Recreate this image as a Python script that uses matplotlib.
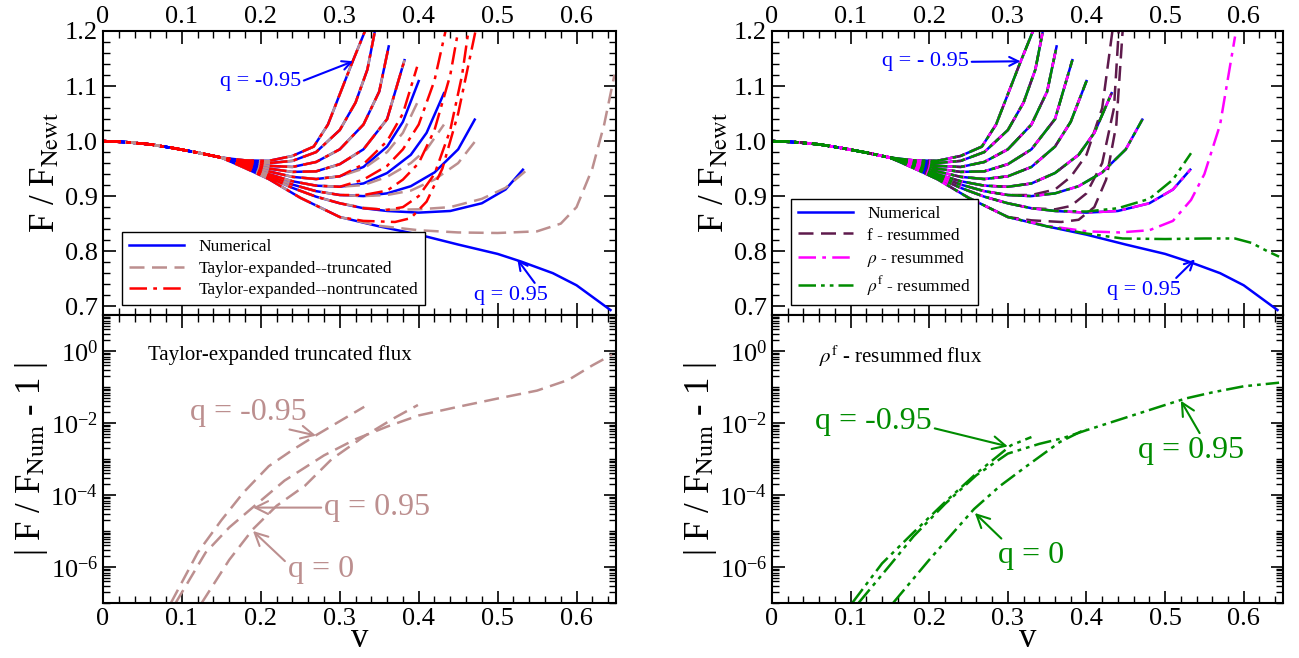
import numpy as np
import matplotlib
matplotlib.use('Agg')
import matplotlib.pyplot as plt
from matplotlib.ticker import MultipleLocator, FixedLocator, LogLocator, NullFormatter, FuncFormatter
from matplotlib.lines import Line2D

plt.rcParams['font.family'] = ['Liberation Serif', 'DejaVu Serif']
plt.rcParams['mathtext.fontset'] = 'stix'

# spins, from q=-0.95 to q=0.95
q_vals = [-0.95, -0.75, -0.5, -0.25, 0.0, 0.25, 0.5, 0.75, 0.95]

# shared low-v part of every F/F_Newt curve
v_pre = [0.0, 0.03, 0.06, 0.09, 0.12, 0.15]
f_pre = [1.0, 0.998, 0.994, 0.987, 0.979, 0.970]

# numerical flux (after v_pre)
num_v = [
    [0.18, 0.21, 0.24, 0.267, 0.285, 0.30, 0.315, 0.332],
    [0.18, 0.21, 0.24, 0.27, 0.30, 0.32, 0.335, 0.344],
    [0.18, 0.21, 0.24, 0.27, 0.30, 0.33, 0.35, 0.362],
    [0.18, 0.21, 0.24, 0.27, 0.30, 0.33, 0.36, 0.382],
    [0.18, 0.21, 0.24, 0.27, 0.30, 0.33, 0.36, 0.38, 0.40],
    [0.18, 0.21, 0.24, 0.27, 0.30, 0.33, 0.36, 0.39, 0.41, 0.432],
    [0.18, 0.21, 0.24, 0.27, 0.30, 0.33, 0.36, 0.39, 0.42, 0.45, 0.471],
    [0.18, 0.21, 0.24, 0.27, 0.30, 0.33, 0.36, 0.40, 0.44, 0.48, 0.51, 0.532],
    [0.18, 0.21, 0.25, 0.30, 0.35, 0.40, 0.45, 0.50, 0.53, 0.57, 0.60, 0.643],
]
num_f = [
    [0.965, 0.964, 0.973, 0.99, 1.03, 1.085, 1.14, 1.2],
    [0.963, 0.960, 0.964, 0.98, 1.02, 1.07, 1.13, 1.196],
    [0.962, 0.955, 0.953, 0.962, 0.985, 1.03, 1.09, 1.172],
    [0.960, 0.950, 0.944, 0.945, 0.958, 0.985, 1.04, 1.147],
    [0.958, 0.945, 0.935, 0.931, 0.936, 0.953, 0.99, 1.035, 1.109],
    [0.956, 0.940, 0.927, 0.919, 0.917, 0.923, 0.942, 0.975, 1.015, 1.087],
    [0.955, 0.937, 0.921, 0.909, 0.902, 0.900, 0.905, 0.918, 0.943, 0.985, 1.039],
    [0.953, 0.934, 0.915, 0.899, 0.887, 0.878, 0.873, 0.870, 0.873, 0.887, 0.912, 0.948],
    [0.951, 0.931, 0.897, 0.862, 0.845, 0.830, 0.812, 0.795, 0.781, 0.760, 0.738, 0.693],
]

# tails that leave the numerical curve: (curve index, v, F)
trunc_tails = [
    (4, [0.33, 0.36, 0.38, 0.40], [0.950, 0.980, 1.015, 1.075]),
    (5, [0.33, 0.36, 0.39, 0.41, 0.432], [0.920, 0.935, 0.960, 0.985, 1.03]),
    (6, [0.33, 0.36, 0.39, 0.42, 0.45, 0.475], [0.900, 0.902, 0.910, 0.930, 0.960, 1.006]),
    (7, [0.33, 0.36, 0.40, 0.44, 0.48, 0.51, 0.535], [0.879, 0.875, 0.876, 0.880, 0.895, 0.915, 0.945]),
    (8, [0.30, 0.35, 0.40, 0.45, 0.50, 0.55, 0.58, 0.60, 0.62, 0.635, 0.648],
        [0.862, 0.846, 0.838, 0.834, 0.833, 0.836, 0.850, 0.880, 0.950, 1.03, 1.12]),
]
nontrunc_tails = [
    (4, [0.33, 0.36, 0.38, 0.398], [0.958, 1.0, 1.05, 1.135]),
    (5, [0.33, 0.36, 0.38, 0.40, 0.42, 0.434], [0.930, 0.955, 0.985, 1.03, 1.11, 1.2]),
    (6, [0.33, 0.36, 0.38, 0.40, 0.42, 0.44, 0.45], [0.902, 0.910, 0.930, 0.960, 1.02, 1.12, 1.2]),
    (7, [0.33, 0.36, 0.38, 0.40, 0.42, 0.44, 0.455, 0.463], [0.878, 0.875, 0.880, 0.900, 0.940, 1.02, 1.12, 1.2]),
    (8, [0.33, 0.37, 0.39, 0.41, 0.43, 0.45, 0.472], [0.855, 0.853, 0.860, 0.890, 0.950, 1.05, 1.2]),
]
fres_tails = [
    (6, [0.33, 0.36, 0.38, 0.40, 0.42, 0.433], [0.902, 0.912, 0.935, 0.975, 1.06, 1.2]),
    (7, [0.33, 0.36, 0.38, 0.40, 0.42, 0.435, 0.441], [0.878, 0.876, 0.882, 0.905, 0.960, 1.06, 1.2]),
    (8, [0.33, 0.368, 0.39, 0.41, 0.425, 0.438, 0.446], [0.856, 0.853, 0.857, 0.880, 0.930, 1.03, 1.2]),
]
rho_tails = [
    (8, [0.35, 0.40, 0.442, 0.48, 0.51, 0.533, 0.55, 0.57, 0.589],
        [0.846, 0.836, 0.834, 0.838, 0.855, 0.893, 0.940, 1.03, 1.19]),
]
rhof_tails = [
    (7, [0.40, 0.44, 0.48, 0.51, 0.533], [0.872, 0.878, 0.895, 0.930, 0.978]),
    (8, [0.40, 0.446, 0.50, 0.55, 0.589, 0.61, 0.63, 0.645], [0.832, 0.823, 0.822, 0.823, 0.823, 0.815, 0.800, 0.790]),
]

# log10 |F/F_num - 1|, Taylor truncated
err_t_v = {
    -0.95: [0.086, 0.12, 0.15, 0.178, 0.21, 0.24, 0.27, 0.30, 0.331],
    0.0: [0.125, 0.16, 0.19, 0.22, 0.256, 0.29, 0.333, 0.37, 0.399],
    0.95: [0.092, 0.13, 0.16, 0.19, 0.23, 0.28, 0.32, 0.36, 0.40, 0.45, 0.50, 0.55, 0.59, 0.62, 0.645],
}
err_t_lg = {
    -0.95: [-7.0, -5.6, -4.7, -3.93, -3.2, -2.75, -2.34, -1.95, -1.55],
    0.0: [-7.0, -5.8, -4.95, -4.3, -3.74, -3.0, -2.34, -1.85, -1.5],
    0.95: [-7.0, -5.6, -4.9, -4.34, -3.6, -2.9, -2.45, -2.1, -1.79, -1.55, -1.32, -1.1, -0.8, -0.4, -0.1],
}
# log10 |F/F_num - 1|, rho^f resummed
err_r_v = {
    -0.95: [0.102, 0.14, 0.18, 0.22, 0.26, 0.304, 0.33],
    0.0: [0.154, 0.2, 0.257, 0.29, 0.325, 0.366, 0.40],
    0.95: [0.11, 0.15, 0.18, 0.22, 0.26, 0.30, 0.34, 0.37, 0.40, 0.45, 0.50, 0.526, 0.56, 0.60, 0.645],
}
err_r_lg = {
    -0.95: [-7.0, -5.9, -5.04, -4.2, -3.4, -2.62, -2.39],
    0.0: [-7.0, -5.8, -4.39, -3.75, -3.18, -2.53, -2.16],
    0.95: [-7.0, -5.95, -5.15, -4.25, -3.45, -2.85, -2.58, -2.42, -2.2, -1.85, -1.5, -1.32, -1.15, -0.98, -0.88],
}

BLUE = '#0000ff'
BROWN = '#bc8f8f'
RED = '#ff0000'
PURPLE = '#5e1a4c'
MAGENTA = '#ff00ff'
GREEN = '#008c00'
LW = 1.8
DASH = (0, (6, 3))
DASHDOT = (0, (7, 2.5, 1.5, 2.5))
DASHDOTDOT = (0, (7, 2, 1.5, 2, 1.5, 2))

W, H = 1299, 658
fig = plt.figure(figsize=(W / 100, H / 100), dpi=100)


def box(x0, x1, ytop, ybot):
    return [x0 / W, 1 - ybot / H, (x1 - x0) / W, (ybot - ytop) / H]


ax_tl = fig.add_axes(box(103, 616, 31, 315))
ax_bl = fig.add_axes(box(103, 616, 315, 603))
ax_tr = fig.add_axes(box(772, 1283, 31, 315))
ax_br = fig.add_axes(box(772, 1283, 315, 603))


def full(i):
    return v_pre + num_v[i], f_pre + num_f[i]


def with_tail(i, tv, tf):
    v, f = full(i)
    keep = [k for k in range(len(v)) if v[k] < tv[0]]
    return [v[k] for k in keep] + tv, [f[k] for k in keep] + tf


def draw_top(ax, styles):
    for i in range(len(q_vals)):
        v, f = full(i)
        ax.plot(v, f, color=BLUE, lw=LW, ls='-')
    for color, ls, tails in styles:
        tailed = {t[0]: t for t in tails}
        for i in range(len(q_vals)):
            if i in tailed:
                v, f = with_tail(i, tailed[i][1], tailed[i][2])
            else:
                v, f = full(i)
            ax.plot(v, f, color=color, lw=LW, ls=ls)


draw_top(ax_tl, [(BROWN, DASH, trunc_tails), (RED, DASHDOT, nontrunc_tails)])
draw_top(ax_tr, [(PURPLE, DASH, fres_tails), (MAGENTA, DASHDOT, rho_tails),
                 (GREEN, DASHDOTDOT, rhof_tails)])

for q in [-0.95, 0.0, 0.95]:
    ax_bl.plot(err_t_v[q], 10.0 ** np.array(err_t_lg[q]), color=BROWN, lw=LW, ls=DASH)
    ax_br.plot(err_r_v[q], 10.0 ** np.array(err_r_lg[q]), color=GREEN, lw=LW, ls=DASHDOTDOT)

# legends
h_l = [Line2D([], [], color=BLUE, lw=LW), Line2D([], [], color=BROWN, lw=LW, ls=DASH),
       Line2D([], [], color=RED, lw=LW, ls=DASHDOT)]
leg = ax_tl.legend(h_l, ['Numerical', 'Taylor-expanded--truncated', 'Taylor-expanded--nontruncated'],
                   loc='lower left', bbox_to_anchor=(0.02, 0.005), fontsize=12.5, fancybox=False,
                   edgecolor='black', framealpha=1, handlelength=3.2, borderpad=0.4, labelspacing=0.3)
leg.get_frame().set_linewidth(1.0)
h_r = [Line2D([], [], color=BLUE, lw=LW), Line2D([], [], color=PURPLE, lw=LW, ls=DASH),
       Line2D([], [], color=MAGENTA, lw=LW, ls=DASHDOT), Line2D([], [], color=GREEN, lw=LW, ls=DASHDOTDOT)]
leg = ax_tr.legend(h_r, ['Numerical', 'f - resummed', r'$\rho$ - resummed', r'$\rho^{\rm f}$ - resummed'],
                   loc='lower left', bbox_to_anchor=(0.02, 0.005), fontsize=12.5, fancybox=False,
                   edgecolor='black', framealpha=1, handlelength=3.2, borderpad=0.4, labelspacing=0.3)
leg.get_frame().set_linewidth(1.0)

# annotations
arw = dict(arrowstyle='->', lw=1.5, shrinkA=0, shrinkB=0)
ax_tl.annotate('q = -0.95', xy=(0.317, 1.145), xytext=(0.148, 1.108), color=BLUE, fontsize=16,
               va='center', arrowprops=dict(arw, color=BLUE, relpos=(1, 0.5)))
ax_tl.annotate('q = 0.95', xy=(0.525, 0.785), xytext=(0.47, 0.72), color=BLUE, fontsize=16,
               va='center', arrowprops=dict(arw, color=BLUE, relpos=(0.85, 1)))
ax_tr.annotate('q = - 0.95', xy=(0.316, 1.145), xytext=(0.14, 1.144), color=BLUE, fontsize=16,
               va='center', arrowprops=dict(arw, color=BLUE, relpos=(1, 0.5)))
ax_tr.annotate('q = 0.95', xy=(0.538, 0.785), xytext=(0.426, 0.729), color=BLUE, fontsize=16,
               va='center', arrowprops=dict(arw, color=BLUE, relpos=(0.9, 1)))

ax_bl.annotate('q = -0.95', xy=(0.27, 10 ** -2.35), xytext=(0.11, 10 ** -1.7), color=BROWN, fontsize=23,
               va='center', arrowprops=dict(arw, color=BROWN, relpos=(0.75, 0)))
ax_bl.annotate('q = 0.95', xy=(0.19, 10 ** -4.35), xytext=(0.28, 10 ** -4.35), color=BROWN, fontsize=23,
               va='center', arrowprops=dict(arw, color=BROWN, relpos=(0, 0.5)))
ax_bl.annotate('q = 0', xy=(0.19, 10 ** -5.0), xytext=(0.234, 10 ** -6.07), color=BROWN, fontsize=23,
               va='center', arrowprops=dict(arw, color=BROWN, relpos=(0, 0.7)))
ax_bl.text(0.057, 10 ** -0.11, 'Taylor-expanded truncated flux', fontsize=15, va='center')

ax_br.annotate('q = -0.95', xy=(0.30, 10 ** -2.65), xytext=(0.055, 10 ** -1.97), color=GREEN, fontsize=23,
               va='center', arrowprops=dict(arw, color=GREEN, relpos=(1, 0.3)))
ax_br.annotate('q = 0.95', xy=(0.52, 10 ** -1.38), xytext=(0.465, 10 ** -2.76), color=GREEN, fontsize=23,
               va='center', arrowprops=dict(arw, color=GREEN, relpos=(0.6, 1)))
ax_br.annotate('q = 0', xy=(0.258, 10 ** -4.5), xytext=(0.287, 10 ** -5.69), color=GREEN, fontsize=23,
               va='center', arrowprops=dict(arw, color=GREEN, relpos=(0.1, 1)))
ax_br.text(0.06, 10 ** -0.15, r'$\rho^{\rm f}$ - resummed flux', fontsize=15, va='center')

plain = FuncFormatter(lambda x, _: f'{x:g}')
onedec = FuncFormatter(lambda x, _: f'{x:.1f}')

# axes styling
for ax in (ax_tl, ax_tr):
    ax.set_xlim(0, 0.65)
    ax.set_ylim(0.684, 1.2)
    ax.xaxis.set_major_locator(MultipleLocator(0.1))
    ax.xaxis.set_minor_locator(MultipleLocator(0.02))
    ax.yaxis.set_major_locator(MultipleLocator(0.1))
    ax.yaxis.set_minor_locator(MultipleLocator(0.02))
    ax.xaxis.set_major_formatter(plain)
    ax.yaxis.set_major_formatter(onedec)
    ax.tick_params(which='both', direction='in', top=True, right=True,
                   labeltop=True, labelbottom=False, labelsize=19)
    ax.tick_params(axis='x', pad=2)
    ax.set_ylabel(r'F / F$_{\rm Newt}$', fontsize=25, labelpad=2)

for ax in (ax_bl, ax_br):
    ax.set_yscale('log')
    ax.set_xlim(0, 0.65)
    ax.set_ylim(1e-7, 10)
    ax.xaxis.set_major_locator(MultipleLocator(0.1))
    ax.xaxis.set_minor_locator(MultipleLocator(0.02))
    ax.xaxis.set_major_formatter(plain)
    ax.yaxis.set_major_locator(FixedLocator([1e-6, 1e-4, 1e-2, 1e0]))
    ax.yaxis.set_minor_locator(LogLocator(base=10, subs=np.arange(1, 10), numticks=20))
    ax.yaxis.set_minor_formatter(NullFormatter())
    ax.tick_params(which='both', direction='in', top=True, right=True, labelsize=19)
    ax.set_ylabel(r'| F / F$_{\rm Num}$ - 1 |', fontsize=25, labelpad=0)
    ax.set_xlabel('v', fontsize=25, labelpad=-6)

for ax in (ax_tl, ax_tr, ax_bl, ax_br):
    ax.tick_params(which='major', length=9, width=1.2)
    ax.tick_params(which='minor', length=5, width=1.0)
    for s in ax.spines.values():
        s.set_linewidth(1.5)

fig.savefig('out.png', dpi=100)
